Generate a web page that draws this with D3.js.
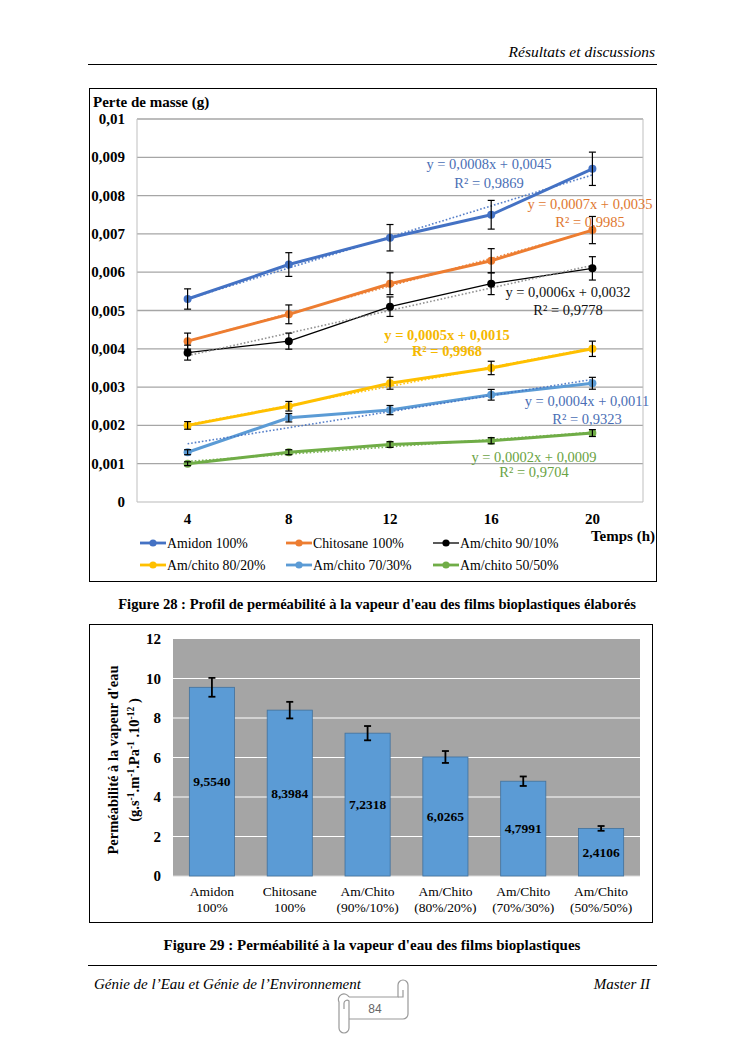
<!DOCTYPE html>
<html><head><meta charset="utf-8">
<script src="https://cdn.jsdelivr.net/npm/d3@7"></script>
<style>html,body{margin:0;padding:0;background:#fff}svg{display:block}</style>
</head><body>
<svg id="c" width="745" height="1053"></svg>
<script>
// ---------- DATA ----------
const times = [4, 8, 12, 16, 20];
const yTicksTop = [0, 0.001, 0.002, 0.003, 0.004, 0.005, 0.006, 0.007, 0.008, 0.009, 0.01];
const seriesNames = ["Amidon 100%", "Chitosane 100%", "Am/chito 90/10%", "Am/chito 80/20%", "Am/chito 70/30%", "Am/chito 50/50%"];
const amidon   = [0.0053, 0.0062, 0.0069, 0.0075, 0.0087];
const chitosane= [0.0042, 0.0049, 0.0057, 0.0063, 0.0071];
const mix9010  = [0.0039, 0.0042, 0.0051, 0.0057, 0.0061];
const mix8020  = [0.0020, 0.0025, 0.0031, 0.0035, 0.0040];
const mix7030  = [0.0013, 0.0022, 0.0024, 0.0028, 0.0031];
const mix5050  = [0.0010, 0.0013, 0.0015, 0.0016, 0.0018];
const errPct = 0.05;
const equations = [
  ["y = 0,0008x + 0,0045", "R² = 0,9869"],
  ["y = 0,0007x + 0,0035", "R² = 0,9985"],
  ["y = 0,0006x + 0,0032", "R² = 0,9778"],
  ["y = 0,0005x + 0,0015", "R² = 0,9968"],
  ["y = 0,0004x + 0,0011", "R² = 0,9323"],
  ["y = 0,0002x + 0,0009", "R² = 0,9704"]
];
const barCats = [["Amidon","100%"],["Chitosane","100%"],["Am/Chito","(90%/10%)"],["Am/Chito","(80%/20%)"],["Am/Chito","(70%/30%)"],["Am/Chito","(50%/50%)"]];
const barValues = [9.5540, 8.3984, 7.2318, 6.0265, 4.7991, 2.4106];
const barLabels = ["9,5540","8,3984","7,2318","6,0265","4,7991","2,4106"];
const yTicksBar = [0, 2, 4, 6, 8, 10, 12];

// ---------- STYLE / LAYOUT ----------
const serif = "'Liberation Serif','Times New Roman',serif";
const colors = ["#4472C4", "#ED7D31", "#000000", "#FFC000", "#5B9BD5", "#70AD47"];
const trendColors = ["#4472C4", "#ED7D31", "#888888", "#FFC000", "#4472C4", "#70AD47"];
const lineW = [3, 3, 1.3, 3, 3, 3];
const eqColors = ["#4A6EB5", "#E0772F", "#111111", "#F5B800", "#4A6EB5", "#6AA343"];
const eqPos = [[489,169,188],[590,209,227],[568,297,315],[447,340,356],[587,406,424],[534,462,477]];
const eqBold = [false,false,false,true,false,false];

const svg = d3.select("#c");
const data = [amidon, chitosane, mix9010, mix8020, mix7030, mix5050];

// header
svg.append("text").attr("x",655).attr("y",57).attr("text-anchor","end")
  .attr("font-family",serif).attr("font-style","italic").attr("font-size",15.5).text("Résultats et discussions");
svg.append("line").attr("x1",88).attr("x2",657).attr("y1",64.5).attr("y2",64.5).attr("stroke","#000").attr("stroke-width",1);

// ---------- TOP CHART ----------
svg.append("rect").attr("x",89.5).attr("y",88.5).attr("width",567).attr("height",493)
  .attr("fill","none").attr("stroke","#000").attr("stroke-width",1);

const xT = d3.scaleBand().domain(times).range([137, 643]).padding(0);
const cx = t => xT(t) + xT.bandwidth()/2;
const yT = d3.scaleLinear().domain([0, 0.01]).range([502, 119]);

// gridlines
svg.append("g").selectAll("line").data(yTicksTop).join("line")
  .attr("x1",137).attr("x2",643).attr("y1",d=>yT(d)).attr("y2",d=>yT(d))
  .attr("stroke",d=>d===0?"#d0d0d0":"#a6a6a6").attr("stroke-width",1.3);
svg.append("line").attr("x1",137).attr("x2",137).attr("y1",119).attr("y2",502).attr("stroke","#bfbfbf");
svg.append("line").attr("x1",643).attr("x2",643).attr("y1",119).attr("y2",502).attr("stroke","#bfbfbf");

// y tick labels
const fmtTop = d => d===0 ? "0" : (d===0.01 ? "0,01" : d3.format(".3f")(d).replace(".",","));
svg.append("g").selectAll("text").data(yTicksTop).join("text")
  .attr("x",125).attr("y",d=>yT(d)+5).attr("text-anchor","end")
  .attr("font-family",serif).attr("font-weight","bold").attr("font-size",15).text(fmtTop);
svg.append("text").attr("x",93).attr("y",107).attr("font-family",serif).attr("font-weight","bold")
  .attr("font-size",15).text("Perte de masse (g)");

// x tick labels
svg.append("g").selectAll("text").data(times).join("text")
  .attr("x",d=>cx(d)).attr("y",524).attr("text-anchor","middle")
  .attr("font-family",serif).attr("font-weight","bold").attr("font-size",15).text(d=>d);
svg.append("text").attr("x",655).attr("y",541).attr("text-anchor","end").attr("font-family",serif)
  .attr("font-weight","bold").attr("font-size",15).text("Temps (h)");

// trendlines (least squares on category index 1..5)
function fit(vals){
  const xs=vals.map((v,i)=>i+1);
  const mx=d3.mean(xs), my=d3.mean(vals);
  const b=d3.sum(xs.map((x,i)=>(x-mx)*(vals[i]-my)))/d3.sum(xs.map(x=>(x-mx)**2));
  return [my-b*mx, b];
}
const line = d3.line().x((d,i)=>cx(times[i])).y(d=>yT(d));

data.forEach((vals,s)=>{
  svg.append("path").datum(vals).attr("d",line).attr("fill","none")
    .attr("stroke",colors[s]).attr("stroke-width",lineW[s]).attr("stroke-linejoin","round");
});
data.forEach((vals,s)=>{
  const [a,b]=fit(vals);
  const tv=[a+b*1, a+b*5];
  svg.append("line").attr("x1",cx(times[0])).attr("x2",cx(times[4]))
    .attr("y1",yT(tv[0])).attr("y2",yT(tv[1]))
    .attr("stroke",trendColors[s]).attr("stroke-width",1.6).attr("stroke-dasharray","1.6,2")
    .attr("opacity",0.9);
});
// markers
data.forEach((vals,s)=>{
  svg.append("g").selectAll("circle").data(vals).join("circle")
    .attr("cx",(d,i)=>cx(times[i])).attr("cy",d=>yT(d)).attr("r",4).attr("fill",colors[s]);
});
// error bars
data.forEach((vals,s)=>{
  const g=svg.append("g").attr("stroke","#000").attr("stroke-width",1.2);
  vals.forEach((v,i)=>{
    const x=cx(times[i]), e=v*errPct;
    g.append("line").attr("x1",x).attr("x2",x).attr("y1",yT(v+e)).attr("y2",yT(v-e));
    g.append("line").attr("x1",x-3.5).attr("x2",x+3.5).attr("y1",yT(v+e)).attr("y2",yT(v+e));
    g.append("line").attr("x1",x-3.5).attr("x2",x+3.5).attr("y1",yT(v-e)).attr("y2",yT(v-e));
  });
});
// equation labels
equations.forEach((eq,s)=>{
  const p=eqPos[s];
  [0,1].forEach(k=>{
    svg.append("text").attr("x",p[0]).attr("y",p[1+k]).attr("text-anchor","middle")
      .attr("font-family",serif).attr("font-size",14.5).attr("font-weight",eqBold[s]?"bold":"normal")
      .attr("fill",eqColors[s]).text(eq[k]);
  });
});

// legend
const legX=[140,286,433], legY=[543,565];
seriesNames.forEach((nm,s)=>{
  const x=legX[s%3], y=legY[Math.floor(s/3)];
  svg.append("line").attr("x1",x).attr("x2",x+26).attr("y1",y).attr("y2",y)
    .attr("stroke",colors[s]).attr("stroke-width",lineW[s]===3?2.8:1.3);
  svg.append("circle").attr("cx",x+13).attr("cy",y).attr("r",3.6).attr("fill",colors[s]);
  svg.append("text").attr("x",x+27).attr("y",y+5).attr("font-family",serif).attr("font-size",13.8).text(nm);
});

svg.append("text").attr("x",377).attr("y",609).attr("text-anchor","middle").attr("font-family",serif)
  .attr("font-weight","bold").attr("font-size",14.6)
  .text("Figure 28 : Profil de perméabilité à la vapeur d'eau des films bioplastiques élaborés");

// ---------- BOTTOM CHART ----------
svg.append("rect").attr("x",89.5).attr("y",624.5).attr("width",563).attr("height",298)
  .attr("fill","none").attr("stroke","#000").attr("stroke-width",1);

const xB = d3.scaleBand().domain(d3.range(barValues.length)).range([173,640]).paddingInner(0.42).paddingOuter(0.21);
const yB = d3.scaleLinear().domain([0,12]).range([876,639]);

svg.append("rect").attr("x",173).attr("y",yB(12)).attr("width",640-173).attr("height",yB(0)-yB(12)).attr("fill","#A5A5A5");
svg.append("g").selectAll("line").data(yTicksBar.filter(d=>d>0&&d<12)).join("line")
  .attr("x1",173).attr("x2",640).attr("y1",d=>yB(d)).attr("y2",d=>yB(d)).attr("stroke","#ffffff").attr("stroke-width",1);
svg.append("line").attr("x1",173).attr("x2",640).attr("y1",yB(0)).attr("y2",yB(0)).attr("stroke","#d9d9d9").attr("stroke-width",1);

svg.append("g").selectAll("rect").data(barValues).join("rect")
  .attr("x",(d,i)=>xB(i)).attr("y",d=>yB(d)).attr("width",xB.bandwidth()).attr("height",d=>yB(0)-yB(d))
  .attr("fill","#5B9BD5").attr("stroke","#41719C").attr("stroke-width",0.8);

// error bars
const ge=svg.append("g").attr("stroke","#000").attr("stroke-width",1.8);
barValues.forEach((v,i)=>{
  const x=xB(i)+xB.bandwidth()/2, e=v*errPct;
  ge.append("line").attr("x1",x).attr("x2",x).attr("y1",yB(v+e)).attr("y2",yB(v-e));
  ge.append("line").attr("x1",x-3.5).attr("x2",x+3.5).attr("y1",yB(v+e)).attr("y2",yB(v+e));
  ge.append("line").attr("x1",x-3.5).attr("x2",x+3.5).attr("y1",yB(v-e)).attr("y2",yB(v-e));
});
// value labels
svg.append("g").selectAll("text").data(barValues).join("text")
  .attr("x",(d,i)=>xB(i)+xB.bandwidth()/2).attr("y",d=>yB(d/2)+4.5).attr("text-anchor","middle")
  .attr("font-family",serif).attr("font-weight","bold").attr("font-size",13.5).text((d,i)=>barLabels[i]);

// y ticks
svg.append("g").selectAll("text").data(yTicksBar).join("text")
  .attr("x",161).attr("y",d=>yB(d)+5).attr("text-anchor","end")
  .attr("font-family",serif).attr("font-weight","bold").attr("font-size",15).text(d=>d);

// x labels
barCats.forEach((c,i)=>{
  const x=xB(i)+xB.bandwidth()/2;
  c.forEach((t,k)=>{
    svg.append("text").attr("x",x).attr("y",896+k*16).attr("text-anchor","middle")
      .attr("font-family",serif).attr("font-size",13.5).text(t);
  });
});

// y axis title
const yt=svg.append("g").attr("transform","translate(0,760) rotate(-90)");
yt.append("text").attr("x",0).attr("y",118).attr("text-anchor","middle").attr("font-family",serif)
  .attr("font-weight","bold").attr("font-size",14.5).text("Perméabilité à la vapeur d'eau");
const t2=yt.append("text").attr("x",0).attr("y",139).attr("text-anchor","middle").attr("font-family",serif)
  .attr("font-weight","bold").attr("font-size",14.5);
const parts=[["(g.s",0],["-1",1],[".m",0],["-1",1],[".Pa",0],["-1",1],[" .10",0],["-12",1],[" )",0]];
let up=false;
parts.forEach(([t,sup])=>{
  const ts=t2.append("tspan").text(t);
  if(sup){ ts.attr("font-size",9.5).attr("dy",up?0:-5); up=true; }
  else { ts.attr("dy",up?5:0); up=false; }
});

svg.append("text").attr("x",372).attr("y",950).attr("text-anchor","middle").attr("font-family",serif)
  .attr("font-weight","bold").attr("font-size",15)
  .text("Figure 29 : Perméabilité à la vapeur d'eau des films bioplastiques");

// footer
svg.append("line").attr("x1",88).attr("x2",657).attr("y1",965.5).attr("y2",965.5).attr("stroke","#000").attr("stroke-width",1);
svg.append("text").attr("x",94).attr("y",989).attr("font-family",serif).attr("font-style","italic")
  .attr("font-size",15).text("Génie de l’Eau et Génie de l’Environnement");
svg.append("text").attr("x",650).attr("y",989).attr("text-anchor","end").attr("font-family",serif)
  .attr("font-style","italic").attr("font-size",15).text("Master II");

// page scroll
const sc=svg.append("g").attr("fill","none").attr("stroke","#999").attr("stroke-width",1.2);
sc.append("path").attr("d","M349,997 L398,997 L398,985 A5,5 0 0 1 408,985 L408,1014 A5,5 0 0 1 403,1019 L349,1019");
sc.append("path").attr("d","M349,997 A5,5 0 0 0 339,1002 L339,1028 A5,5 0 0 0 349,1028 L349,1001 A3,3 0 0 0 344,1003 L344,1009");
sc.append("path").attr("d","M398,997 L403,997 L403,990");
svg.append("text").attr("x",375).attr("y",1013).attr("text-anchor","middle").attr("font-family","'Liberation Sans',Arial,sans-serif")
  .attr("font-size",12).attr("fill","#666").text("84");
</script>
</body></html>
